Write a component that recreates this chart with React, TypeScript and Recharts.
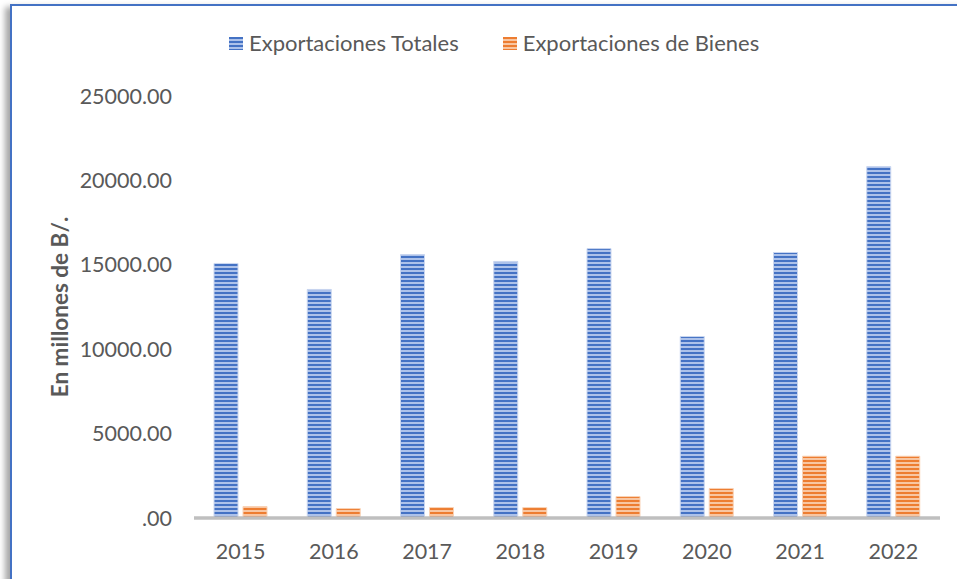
import { Bar, BarChart, Label, Legend, XAxis, YAxis } from 'recharts'

const years = ['2015', '2016', '2017', '2018', '2019', '2020', '2021', '2022']
const totales = [15080, 13540, 15610, 15200, 15960, 10750, 15730, 20820]
const bienes = [680, 560, 620, 620, 1270, 1750, 3660, 3660]
const yTicks = [0, 5000, 10000, 15000, 20000, 25000]

const data = years.map((year, i) => ({
  year,
  totales: totales[i],
  bienes: bienes[i],
}))

const FONT = 'Lato, "Noto Sans", sans-serif'
const TEXT = '#595959'

const legendItems = [
  { label: 'Exportaciones Totales', fill: 'url(#stripeBlue)' },
  { label: 'Exportaciones de Bienes', fill: 'url(#stripeOrange)' },
]

function LegendContent() {
  return (
    <div style={{ display: 'flex', alignItems: 'center', fontFamily: FONT, fontSize: 22, lineHeight: '24px', color: TEXT }}>
      {legendItems.map((item, i) => (
        <div key={item.label} style={{ display: 'flex', alignItems: 'center', marginRight: i === 0 ? 44 : 0 }}>
          <svg width={14} height={13} style={{ marginRight: 6 }}>
            <rect width={14} height={13} fill={item.fill} />
          </svg>
          <span>{item.label}</span>
        </div>
      ))}
    </div>
  )
}

export default function App() {
  return (
    <div style={{ position: 'absolute', left: 0, top: 0, width: 957, height: 579, overflow: 'hidden', background: '#fff' }}>
      <div
        style={{
          position: 'absolute',
          left: 10,
          top: 4,
          width: 980,
          height: 600,
          borderTop: '2px solid #4472C4',
          borderLeft: '2px solid #4472C4',
          boxShadow: '-5px 3px 6px rgba(0,0,0,0.35)',
          background: '#fff',
        }}
      />
      <div style={{ position: 'absolute', left: 0, top: 0 }}>
        <BarChart
          width={957}
          height={579}
          data={data}
          margin={{ top: 72, right: 17, bottom: 31, left: 10 }}
          barSize={24}
          barGap={5}
        >
          <defs>
            <pattern id="stripeBlue" patternUnits="userSpaceOnUse" width={4} height={4}>
              <rect width={4} height={4} fill="#adc2ea" />
              <rect width={4} height={2} fill="#4472C4" />
            </pattern>
            <pattern id="stripeOrange" patternUnits="userSpaceOnUse" width={4} height={4}>
              <rect width={4} height={4} fill="#f8c6a2" />
              <rect width={4} height={2} fill="#ED7D31" />
            </pattern>
          </defs>
          <XAxis
            dataKey="year"
            height={30}
            stroke="#bfbfbf"
            strokeWidth={3.5}
            tickLine={false}
            tickSize={0}
            tickMargin={26}
            tick={{ fill: TEXT, fontSize: 21.5, fontFamily: FONT }}
          />
          <YAxis
            width={184}
            domain={[0, 25000]}
            ticks={yTicks}
            axisLine={false}
            tickLine={false}
            tickSize={0}
            tickMargin={22}
            tickFormatter={(v: number) => (v === 0 ? '.00' : v.toFixed(2))}
            tick={{ fill: TEXT, fontSize: 21.5, fontFamily: FONT }}
          >
            <Label
              value="En millones de B/."
              angle={-90}
              position="insideLeft"
              offset={50}
              style={{ textAnchor: 'middle', fill: TEXT, fontSize: 22.5, fontWeight: 700, fontFamily: FONT }}
            />
          </YAxis>
          <Legend
            verticalAlign="top"
            content={() => <LegendContent />}
            wrapperStyle={{ position: 'absolute', left: 229, top: 31, width: 'auto' }}
          />
          <Bar dataKey="totales" name="Exportaciones Totales" fill="url(#stripeBlue)" stroke="#c9d6f0" strokeWidth={1} isAnimationActive={false} />
          <Bar dataKey="bienes" name="Exportaciones de Bienes" fill="url(#stripeOrange)" stroke="#f9d2b5" strokeWidth={1} isAnimationActive={false} />
        </BarChart>
      </div>
    </div>
  )
}
